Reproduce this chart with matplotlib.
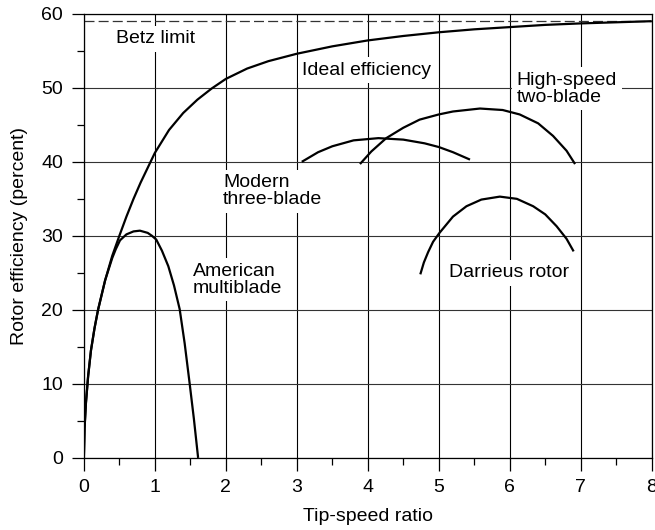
import matplotlib
matplotlib.use("Agg")
import matplotlib.pyplot as plt
from matplotlib.ticker import MultipleLocator

plt.rcParams['font.family'] = ['Liberation Sans', 'DejaVu Sans']

# curvas (razao de velocidade de ponta x eficiencia %)
ideal_x = [0, 0.01, 0.03, 0.06, 0.1, 0.15, 0.2, 0.3, 0.4, 0.5, 0.6, 0.7, 0.8, 0.9, 1.0,
           1.2, 1.4, 1.6, 1.8, 2.0, 2.3, 2.6, 3.0, 3.5, 4.0, 4.5, 5.0, 5.5, 6.0, 6.5, 7.0,
           7.5, 8.0]
ideal_y = [0, 4, 7.5, 11, 14.5, 17.5, 20, 24, 27.3, 30, 32.6, 35, 37.2, 39.2, 41.2,
           44.3, 46.6, 48.4, 49.9, 51.2, 52.6, 53.6, 54.6, 55.6, 56.4, 57.0, 57.5, 57.9,
           58.2, 58.5, 58.7, 58.85, 59.0]

american_x = [0, 0.01, 0.03, 0.06, 0.1, 0.15, 0.2, 0.3, 0.4, 0.45, 0.51, 0.6, 0.7, 0.79,
              0.9, 0.96, 1.02, 1.1, 1.19, 1.27, 1.35, 1.42, 1.49, 1.55, 1.61]
american_y = [0, 4, 7.5, 11, 14.5, 17.5, 20, 24, 27, 28.2, 29.4, 30.2, 30.6, 30.7,
              30.4, 30.0, 29.5, 28.0, 25.9, 23.3, 20.1, 15.5, 10.1, 5.3, 0]

modern_x = [3.07, 3.3, 3.5, 3.8, 4.15, 4.5, 4.8, 5.0, 5.2, 5.44]
modern_y = [40.0, 41.3, 42.1, 42.9, 43.2, 43.0, 42.5, 42.0, 41.3, 40.3]

twoblade_x = [3.89, 4.05, 4.26, 4.5, 4.73, 5.0, 5.2, 5.58, 5.9, 6.14, 6.4, 6.61, 6.8, 6.92]
twoblade_y = [39.7, 41.4, 43.2, 44.6, 45.7, 46.4, 46.8, 47.2, 47.0, 46.4, 45.2, 43.5, 41.5, 39.7]

darrieus_x = [4.74, 4.79, 4.85, 4.92, 5.01, 5.2, 5.39, 5.6, 5.86, 6.1, 6.33, 6.5, 6.66, 6.8, 6.9]
darrieus_y = [24.8, 26.4, 27.8, 29.2, 30.4, 32.6, 34.0, 34.9, 35.3, 35.0, 34.0, 32.9, 31.3, 29.6, 27.9]

betz = 59.0

labels = ["Betz limit", "Ideal efficiency", "High-speed\ntwo-blade", "Modern\nthree-blade",
          "American\nmultiblade", "Darrieus rotor"]
label_x = [0.45, 3.08, 6.10, 1.96, 1.54, 5.14]
label_y = [56.6, 52.4, 49.9, 36.0, 24.1, 25.0]

fig = plt.figure(figsize=(6.55, 5.3), dpi=100)
ax = fig.add_axes([0.128, 0.136, 0.867, 0.838])

ax.set_xlim(0, 8)
ax.set_ylim(0, 60)
ax.xaxis.set_major_locator(MultipleLocator(1))
ax.xaxis.set_minor_locator(MultipleLocator(0.5))
ax.yaxis.set_major_locator(MultipleLocator(10))
ax.yaxis.set_minor_locator(MultipleLocator(5))
ax.tick_params(which='major', length=9, width=0.9, labelsize=14, direction='out', pad=6)
ax.tick_params(which='minor', length=5, width=0.9, direction='out')
for s in ax.spines.values():
    s.set_linewidth(0.9)

ax.grid(axis='x', color='black', linewidth=0.8, zorder=0.5)
ax.grid(axis='y', color='#333333', linewidth=0.8, zorder=0.5)
ax.set_axisbelow(True)

ax.axhline(betz, color='#333333', linewidth=0.9, dashes=(8, 3.3), zorder=2)

for xs, ys in [(ideal_x, ideal_y), (american_x, american_y), (modern_x, modern_y),
               (twoblade_x, twoblade_y), (darrieus_x, darrieus_y)]:
    ax.plot(xs, ys, color='black', linewidth=1.6, zorder=3, solid_capstyle='butt',
            solid_joinstyle='round')

for t, x, y in zip(labels, label_x, label_y):
    ax.text(x, y, t, fontsize=14, ha='left', va='center', linespacing=1.0, zorder=1.5,
            bbox=dict(boxstyle='square,pad=0.25', fc='white', ec='none'))

ax.set_xlabel("Tip-speed ratio", fontsize=14)
ax.set_ylabel("Rotor efficiency (percent)", fontsize=14)
ax.xaxis.set_label_coords(0.5, -0.133)
ax.xaxis.label.set_va('center')
ax.yaxis.set_label_coords(-0.114, 0.5)
ax.yaxis.label.set_va('center')

fig.savefig("out.png", dpi=100)
